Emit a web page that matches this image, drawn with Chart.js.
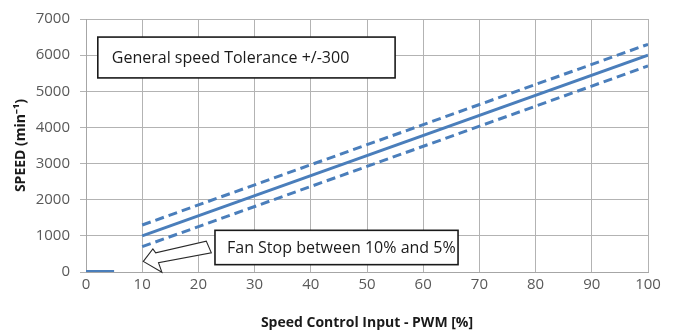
<!DOCTYPE html>
<html>
<head>
<meta charset="utf-8">
<script src="https://cdn.jsdelivr.net/npm/chart.js@4/dist/chart.umd.min.js"></script>
<style>
  html, body { margin: 0; padding: 0; background: #fff; }
  #wrap { width: 673px; height: 331px; }
</style>
</head>
<body>
<div id="wrap"><canvas id="speedChart"></canvas></div>
<script>
// PWM input [%] and fan speed [min-1]
const pwm = [10, 100];
const speedNominal = [1000, 6000];
const speedUpper = [1300, 6300];
const speedLower = [700, 5700];
const stopPwm = [0, 5];
const stopSpeed = [0, 0];

const xTicks = [0, 10, 20, 30, 40, 50, 60, 70, 80, 90, 100];
const yTicks = [0, 1000, 2000, 3000, 4000, 5000, 6000, 7000];

const toleranceText = "General speed Tolerance +/-300";
const stopText = "Fan Stop between 10% and 5%";

const blue = "#4a7ebb";
const pts = (xs, ys) => xs.map((x, i) => ({x: x, y: ys[i]}));

// text boxes and the hollow arrow, placed in data units
const notes = {
    id: "notes",
    afterDatasetsDraw(chart) {
        const c = chart.ctx, xs = chart.scales.x, ys = chart.scales.y;
        const X = v => xs.getPixelForValue(v), Y = v => ys.getPixelForValue(v);

        const box = (x0, y0, x1, y1, text, tx) => {
            const l = X(x0), t = Y(y0), r = X(x1), b = Y(y1);
            c.save();
            c.fillStyle = "#fff";
            c.fillRect(l, t, r - l, b - t);
            c.strokeStyle = "#1a1a1a";
            c.lineWidth = 1.6;
            c.strokeRect(l, t, r - l, b - t);
            c.fillStyle = "#1a1a1a";
            c.font = "16px 'Open Sans'";
            c.textBaseline = "middle";
            c.fillText(text, l + tx, (t + b) / 2 + 1);
            c.restore();
        };

        box(2.1, 6500, 55, 5370, toleranceText, 14);

        // arrow pointing at 10 %
        const arrow = [[10.2, 293], [11.9, 640], [12.4, 529], [21.4, 855],
                       [22.3, 529], [12.9, 258], [13.5, -5]];
        c.save();
        c.beginPath();
        arrow.forEach((p, i) => i ? c.lineTo(X(p[0]), Y(p[1])) : c.moveTo(X(p[0]), Y(p[1])));
        c.closePath();
        c.fillStyle = "#fff";
        c.fill();
        c.strokeStyle = "#2a2a2a";
        c.lineWidth = 1.1;
        c.stroke();
        c.restore();

        box(22.95, 1153, 66.2, 203, stopText, 12);
    }
};

const lineSet = (data, dash) => ({
    data: data,
    borderColor: blue,
    borderWidth: 3,
    borderDash: dash,
    pointRadius: 0,
    fill: false,
    tension: 0
});

new Chart(document.getElementById("speedChart"), {
    type: "line",
    data: {
        datasets: [
            lineSet(pts(pwm, speedUpper), [9, 5]),
            lineSet(pts(pwm, speedLower), [9, 5]),
            lineSet(pts(pwm, speedNominal), []),
            Object.assign(lineSet(pts(stopPwm, stopSpeed), []), {borderWidth: 4})
        ]
    },
    options: {
        responsive: true,
        maintainAspectRatio: false,
        animation: false,
        layout: {padding: {left: 0, right: 25, top: 15, bottom: 0}},
        plugins: {legend: {display: false}, tooltip: {enabled: false}},
        scales: {
            x: {
                type: "linear",
                min: 0, max: 100,
                afterBuildTicks: s => { s.ticks = xTicks.map(v => ({value: v})); },
                afterFit: s => { s.height = 59; },
                grid: {color: "#b3b3b3", drawTicks: false},
                border: {color: "#a6a6a6"},
                ticks: {color: "#595959", font: {family: "'Open Sans'", size: 15}, padding: 4, maxRotation: 0,
                        callback: v => String(v)},
                title: {display: true, text: "Speed Control Input - PWM [%]", color: "#1a1a1a",
                        font: {family: "'Open Sans'", size: 14, weight: "bold"}, padding: {top: 2, bottom: 0}}
            },
            y: {
                min: 0, max: 7000,
                afterBuildTicks: s => { s.ticks = yTicks.map(v => ({value: v})); },
                afterFit: s => { s.width = 86; },
                grid: {color: "#b3b3b3", tickLength: 6},
                border: {color: "#a6a6a6"},
                ticks: {color: "#595959", font: {family: "'Open Sans'", size: 15}, padding: 10,
                        callback: v => String(v)},
                title: {display: true, text: "SPEED (min⁻¹)", color: "#1a1a1a",
                        font: {family: "'Open Sans'", size: 14, weight: "bold"}, padding: {top: 13, bottom: 0}}
            }
        }
    },
    plugins: [notes]
});
</script>
</body>
</html>
